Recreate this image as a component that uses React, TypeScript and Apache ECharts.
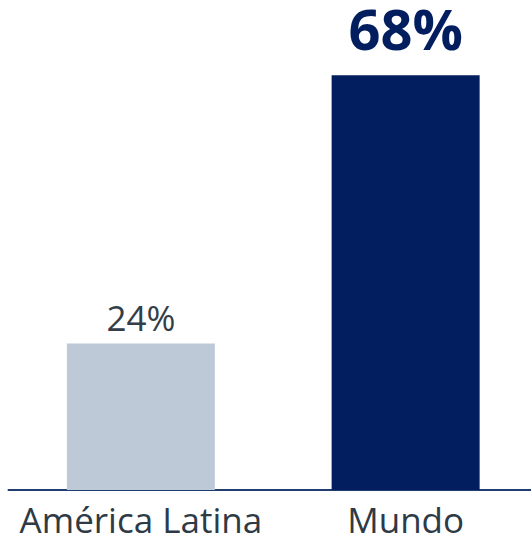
import React, { useEffect, useRef } from "react";
import * as echarts from "echarts";

const categories = ["América Latina", "Mundo"];
const values = [24, 68];
const valueLabels = ["24%", "68%"];

export default function App() {
  const ref = useRef<HTMLDivElement>(null);
  useEffect(() => {
    if (!ref.current) return;
    const chart = echarts.init(ref.current, undefined, { renderer: "svg" });
    chart.setOption({
      animation: false,
      grid: { left: 8.5, right: 0, top: 2, bottom: 49, containLabel: false },
      xAxis: {
        type: "category",
        data: categories,
        axisLine: { show: true, lineStyle: { color: "#1f3d70", width: 2 } },
        axisTick: { show: false },
        axisLabel: {
          color: "#2e3a46",
          fontSize: 35,
          lineHeight: 30,
          fontFamily: "Open Sans",
          margin: 14,
          interval: 0,
        },
      },
      yAxis: {
        type: "value",
        min: 0,
        max: 80,
        show: false,
        splitLine: { show: false },
      },
      series: [
        {
          type: "bar",
          barWidth: 148,
          data: [
            {
              value: values[0],
              itemStyle: { color: "#bec9d7" },
              label: {
                show: true,
                position: "top",
                distance: 9,
                formatter: valueLabels[0],
                color: "#333e48",
                fontSize: 35,
                fontFamily: "Open Sans",
              },
            },
            {
              value: values[1],
              itemStyle: { color: "#021e5e" },
              label: {
                show: true,
                position: "top",
                distance: 25,
                formatter: valueLabels[1],
                color: "#021e5e",
                fontSize: 56,
                lineHeight: 44,
                fontWeight: "bold",
                fontFamily: "Open Sans",
              },
            },
          ],
        },
      ],
    });
    return () => chart.dispose();
  }, []);
  return (
    <div
      style={{
        position: "absolute",
        left: 0,
        top: 0,
        width: 531,
        height: 539,
        overflow: "hidden",
      }}
    >
      <div ref={ref} style={{ width: 538, height: 539 }} />
    </div>
  );
}
